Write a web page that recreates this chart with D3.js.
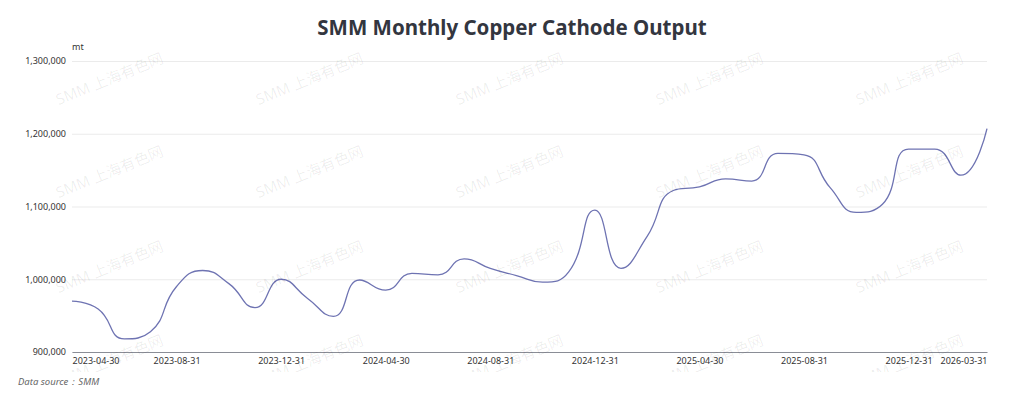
<!DOCTYPE html>
<html>
<head>
<meta charset="utf-8">
<script src="https://cdn.jsdelivr.net/npm/d3@7/dist/d3.min.js"></script>
<style>
  body { margin: 0; background: #fff; }
  svg { display: block; font-family: "Noto Sans", sans-serif; }
</style>
</head>
<body>
<div id="chart"></div>
<script>
// chart data
var dates = ["2023-04-30","2023-05-31","2023-06-30","2023-07-31","2023-08-31","2023-09-30",
             "2023-10-31","2023-11-30","2023-12-31","2024-01-31","2024-02-29","2024-03-31",
             "2024-04-30","2024-05-31","2024-06-30","2024-07-31","2024-08-31","2024-09-30",
             "2024-10-31","2024-11-30","2024-12-31","2025-01-31","2025-02-28","2025-03-31",
             "2025-04-30","2025-05-31","2025-06-30","2025-07-31","2025-08-31","2025-09-30",
             "2025-10-31","2025-11-30","2025-12-31","2026-01-31","2026-02-28","2026-03-31"];
var output = [970000, 959000, 918000, 928000, 990000, 1012000,
              994000, 961000, 1000000, 974000, 949000, 999000,
              985000, 1008000, 1006000, 1028000, 1015000, 1005000,
              996000, 1010000, 1095000, 1015000, 1059000, 1122000,
              1127000, 1138000, 1135000, 1173000, 1171000, 1126000,
              1092000, 1103000, 1179000, 1179000, 1143000, 1207000];
var yTicks = [900000, 1000000, 1100000, 1200000, 1300000];
var shownDates = ["2023-04-30","2023-08-31","2023-12-31","2024-04-30","2024-08-31","2024-12-31",
                  "2025-04-30","2025-08-31","2025-12-31","2026-03-31"];

var width = 1024;
var height = 399;
var margin = {top: 61, right: 37, bottom: 47, left: 72};

var svg = d3.select("#chart")
            .append("svg")
            .attr("width", width)
            .attr("height", height);

var x = d3.scalePoint()
          .domain(dates)
          .range([margin.left, width - margin.right]);

var y = d3.scaleLinear()
          .domain([900000, 1300000])
          .range([height - margin.bottom, margin.top]);

// title
svg.append("text")
   .attr("x", width / 2)
   .attr("y", 35)
   .attr("text-anchor", "middle")
   .attr("font-size", 20.5)
   .attr("font-weight", "bold")
   .attr("fill", "#33363f")
   .text("SMM Monthly Copper Cathode Output");

// unit
svg.append("text")
   .attr("x", margin.left)
   .attr("y", 50)
   .attr("font-size", 9)
   .attr("fill", "#333")
   .text("mt");

// grid lines + y labels
var yAxis = d3.axisLeft(y)
              .tickValues(yTicks)
              .tickSize(-(width - margin.left - margin.right))
              .tickPadding(6)
              .tickFormat(d3.format(","));

svg.append("g")
   .attr("transform", "translate(" + margin.left + ",0)")
   .call(yAxis)
   .call(function(g) {
     g.select(".domain").remove();
     g.selectAll(".tick line").attr("stroke", "#ebebeb");
     g.selectAll(".tick text").attr("fill", "#333").attr("font-size", 9)
      .attr("font-family", "Noto Sans, sans-serif");
   });

// x axis
var xAxis = d3.axisBottom(x)
              .tickValues(shownDates)
              .tickSize(0)
              .tickPadding(6);

svg.append("g")
   .attr("transform", "translate(0," + (height - margin.bottom) + ")")
   .call(xAxis)
   .call(function(g) {
     g.select(".domain").attr("stroke", "#8a8d96").attr("stroke-width", 1.2);
     g.selectAll(".tick text").attr("fill", "#333").attr("font-size", 9)
      .attr("font-family", "Noto Sans, sans-serif")
      .attr("text-anchor", function(d) {
        if (d === dates[0]) return "start";
        if (d === dates[dates.length - 1]) return "end";
        return "middle";
      });
   });

// smooth line, same control point rule as echarts (smooth 0.5, clamped)
function smoothPath(pts, smooth) {
  var p = d3.path();
  var n = pts.length;
  p.moveTo(pts[0][0], pts[0][1]);
  var cpx0 = pts[0][0], cpy0 = pts[0][1];
  for (var i = 1; i < n; i++) {
    var px = pts[i - 1][0], py = pts[i - 1][1];
    var xx = pts[i][0], yy = pts[i][1];
    var cpx1, cpy1, ncx = xx, ncy = yy;
    if (i === n - 1) {
      cpx1 = xx; cpy1 = yy;
    } else {
      var nx = pts[i + 1][0], ny = pts[i + 1][1];
      var vx = nx - px, vy = ny - py;
      var lp = Math.hypot(xx - px, yy - py);
      var ln = Math.hypot(nx - xx, ny - yy);
      var r = ln / (ln + lp);
      ncx = xx + vx * smooth * r;
      ncy = yy + vy * smooth * r;
      ncx = Math.max(Math.min(ncx, Math.max(nx, xx)), Math.min(nx, xx));
      ncy = Math.max(Math.min(ncy, Math.max(ny, yy)), Math.min(ny, yy));
      vx = ncx - xx; vy = ncy - yy;
      cpx1 = xx - vx * lp / ln;
      cpy1 = yy - vy * lp / ln;
      cpx1 = Math.max(Math.min(cpx1, Math.max(px, xx)), Math.min(px, xx));
      cpy1 = Math.max(Math.min(cpy1, Math.max(py, yy)), Math.min(py, yy));
      vx = xx - cpx1; vy = yy - cpy1;
      ncx = xx + vx * ln / lp;
      ncy = yy + vy * ln / lp;
    }
    p.bezierCurveTo(cpx0, cpy0, cpx1, cpy1, xx, yy);
    cpx0 = ncx; cpy0 = ncy;
  }
  return p.toString();
}

var points = output.map(function(d, i) { return [x(dates[i]), y(d)]; });

svg.append("path")
   .attr("d", smoothPath(points, 0.5))
   .attr("fill", "none")
   .attr("stroke", "#6e73b2")
   .attr("stroke-width", 1.3);

// watermark
var wmCols = [110, 310, 510, 710, 910];
var wmRows = [80, 173, 268, 362];
svg.append("defs").append("clipPath").attr("id", "wmclip")
   .append("rect").attr("x", 0).attr("y", 0).attr("width", width).attr("height", 372);
var wm = svg.append("g").attr("clip-path", "url(#wmclip)");
wmRows.forEach(function(ry) {
  wmCols.forEach(function(cx) {
    wm.append("text")
      .attr("transform", "translate(" + cx + "," + ry + ") rotate(-22)")
      .attr("text-anchor", "middle")
      .attr("dominant-baseline", "middle")
      .attr("font-size", 15)
      .attr("font-family", "Noto Sans, Noto Sans CJK SC, sans-serif")
      .attr("fill", "#000")
      .attr("fill-opacity", 0.07)
      .text("SMM 上海有色网");
  });
});

// source note
svg.append("text")
   .attr("x", 18)
   .attr("y", 385)
   .attr("font-size", 9.5)
   .attr("font-style", "italic")
   .attr("fill", "#666")
   .text("Data source：SMM");
</script>
</body>
</html>
